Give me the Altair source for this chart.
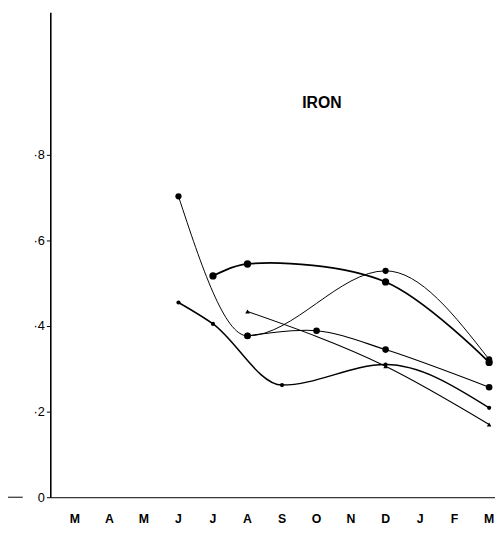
import altair as alt
import pandas as pd

# Month axis labels (March to March)
months = ["M", "A", "M", "J", "J", "A", "S", "O", "N", "D", "J", "F", "M"]

# Series: month index (0 = March) and iron value
s1_month = [3, 5, 9, 12]
s1_value = [0.703, 0.377, 0.529, 0.322]

s2_month = [4, 5, 9, 12]
s2_value = [0.517, 0.545, 0.503, 0.315]

s3_month = [5, 9, 12]
s3_value = [0.434, 0.306, 0.170]

s4_month = [3, 4, 6, 9, 12]
s4_value = [0.455, 0.405, 0.262, 0.310, 0.209]

s5_month = [5, 7, 9, 12]
s5_value = [0.377, 0.389, 0.345, 0.257]

y_ticks = [0, 0.2, 0.4, 0.6, 0.8]

series = [
    ("s1", s1_month, s1_value, dict(sw=1.0, shape="circle", size=40, interp="monotone")),
    ("s2", s2_month, s2_value, dict(sw=1.8, shape="circle", size=55, interp="catmull-rom")),
    ("s3", s3_month, s3_value, dict(sw=1.1, shape="triangle-up", size=22, interp="monotone")),
    ("s4", s4_month, s4_value, dict(sw=1.5, shape="circle", size=18, interp="monotone")),
    ("s5", s5_month, s5_value, dict(sw=1.1, shape="circle", size=45, interp="catmull-rom")),
]

H = 493
xscale = alt.Scale(domain=[-0.713, 12.17], nice=False, zero=False)
yscale = alt.Scale(domain=[0, H / 435.0], nice=False, zero=False)

layers = []
for i, (name, m, v, st) in enumerate(series):
    df = pd.DataFrame({"month": m, "value": v})
    if i == 0:
        x = alt.X("month:Q", scale=xscale, axis=alt.Axis(
            values=list(range(13)), labels=False,
            ticks=False, grid=False, domainColor="black", domainWidth=1, title=None))
        y = alt.Y("value:Q", scale=yscale, axis=alt.Axis(
            values=y_ticks,
            labelExpr="datum.value == 0 ? '0' : '·' + round(datum.value * 10)",
            grid=False, domainColor="black", domainWidth=1.6, tickColor="black",
            tickSize=4, labelPadding=2, labelFontSize=13, labelColor="black",
            labelFont="Liberation Sans", labelOverlap=False, title=None))
    else:
        x = alt.X("month:Q", scale=xscale)
        y = alt.Y("value:Q", scale=yscale)
    line = alt.Chart(df).mark_line(color="black", strokeWidth=st["sw"],
                                   interpolate=st["interp"]).encode(x=x, y=y)
    pts = alt.Chart(df).mark_point(color="black", filled=True, opacity=1,
                                   shape=st["shape"], size=st["size"]).encode(
        x=alt.X("month:Q", scale=xscale), y=alt.Y("value:Q", scale=yscale))
    layers += [line, pts]

month_df = pd.DataFrame({"idx": list(range(len(months))), "label": months})
month_text = alt.Chart(month_df).mark_text(
    font="Liberation Sans", fontSize=12.5, fontWeight="bold", color="black",
    baseline="top", align="center").encode(
    x=alt.X("idx:Q", scale=xscale), y=alt.value(H + 16), text="label:N")

left_rule = alt.Chart(pd.DataFrame({"a": [0]})).mark_rule(color="black", strokeWidth=1).encode(
    x=alt.value(-43), x2=alt.value(-28), y=alt.value(H))

title = alt.Chart(pd.DataFrame({"t": ["IRON"]})).mark_text(
    font="Liberation Sans", fontSize=16, fontWeight="bold", color="black").encode(
    text="t:N", x=alt.value(276), y=alt.value(92))

chart = alt.layer(*layers, month_text, left_rule, title).properties(
    width=452, height=H, autosize="none",
    padding={"left": 43, "top": 0, "right": 0, "bottom": 27},
).configure_view(stroke=None)

chart.save("out.html", embed_options={"renderer": "svg", "actions": False})
